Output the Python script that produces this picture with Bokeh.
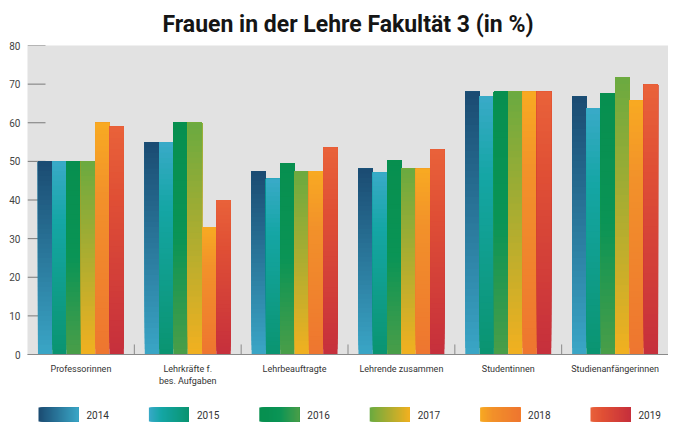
import numpy as np
from bokeh.plotting import figure
from bokeh.models import ColumnDataSource, FactorRange, Range1d, FixedTicker
from bokeh.transform import dodge
from bokeh.layouts import column
from bokeh.embed import file_html
from bokeh.resources import INLINE
from bokeh.core.properties import value

# ---------------- data ----------------
categories = ["Professorinnen", "Lehrkräfte f.\nbes. Aufgaben", "Lehrbeauftragte",
              "Lehrende zusammen", "Studentinnen", "Studienanfängerinnen"]
years = ["2014", "2015", "2016", "2017", "2018", "2019"]
v2014 = [50, 55, 47.5, 48.1, 68.0, 66.8]
v2015 = [50, 55, 45.5, 47.1, 66.9, 63.8]
v2016 = [50, 60, 49.5, 50.2, 68.0, 67.7]
v2017 = [50, 60, 47.5, 48.1, 68.0, 71.8]
v2018 = [60, 33, 47.5, 48.1, 68.0, 65.8]
v2019 = [59, 40, 53.6, 53.1, 68.0, 69.9]
series = [v2014, v2015, v2016, v2017, v2018, v2019]
y_ticks = [0, 10, 20, 30, 40, 50, 60, 70, 80]
title_text = "Frauen in der Lehre Fakultät 3 (in %)"

# ---------------- styles ----------------
gradients = [
    [(0.0, "#1b4b72"), (1.0, "#3aa6c6")],
    [(0.0, "#3aaac8"), (0.3, "#15a6a6"), (1.0, "#0a9470")],
    [(0.0, "#078f4f"), (0.5, "#0a9456"), (1.0, "#4a9e48")],
    [(0.0, "#6aaa40"), (1.0, "#f2b020")],
    [(0.0, "#f8aa22"), (0.3, "#f2922a"), (1.0, "#ee7530")],
    [(0.0, "#e9623a"), (0.3, "#e05035"), (1.0, "#c62f3c")],
]


def hex2rgb(h):
    h = h.lstrip("#")
    return [int(h[i:i + 2], 16) for i in (0, 2, 4)]


def grad_color(stops, t):
    for (p0, c0), (p1, c1) in zip(stops[:-1], stops[1:]):
        if t <= p1 or (p1 == stops[-1][0]):
            f = 0 if p1 == p0 else min(max((t - p0) / (p1 - p0), 0), 1)
            a, b = hex2rgb(c0), hex2rgb(c1)
            r = [round(a[i] + (b[i] - a[i]) * f) for i in range(3)]
            return "#%02x%02x%02x" % tuple(r)
    return stops[-1][1]


NL = 40  # gradient layers per bar
bar_w = 0.134

W, H_MAIN, H_LEG = 668, 396, 28
B_LEFT = 27

p = figure(x_range=FactorRange(factors=categories, range_padding=0, factor_padding=0),
           y_range=Range1d(0, 80), width=W, height=H_MAIN,
           output_backend="svg", toolbar_location=None,
           min_border_left=B_LEFT, min_border_right=0, min_border_top=45, min_border_bottom=42)

p.background_fill_color = "#e2e2e2"
p.border_fill_color = "white"
p.outline_line_color = None
p.xgrid.grid_line_color = None
p.ygrid.grid_line_color = None

p.title.text = title_text
p.title.align = "center"
p.title.offset = -6
p.title.text_font = "Roboto"
p.title.text_font_style = "bold"
p.title.text_font_size = "23px"
p.title.text_color = "#151515"
p.title.standoff = 16

# inward y tick marks (drawn beneath the bars)
tick_len = 0.1685
p.segment(x0=[0] * len(y_ticks), y0=y_ticks, x1=[tick_len] * len(y_ticks), y1=y_ticks,
          line_color="#7a7a7a", line_width=1)

for j, vals in enumerate(series):
    xs, bots, tops, cols = [], [], [], []
    for k in range(NL):
        t = 1 - (k + 0.5) / NL
        c = grad_color(gradients[j], t)
        for cat, v in zip(categories, vals):
            xs.append(cat)
            bots.append(v * k / NL)
            tops.append(v)
            cols.append(c)
    src = ColumnDataSource(dict(x=xs, bottom=bots, top=tops, color=cols))
    p.vbar(x=dodge("x", (j - 2.5) * bar_w, range=p.x_range), width=bar_w,
           bottom="bottom", top="top", fill_color="color", line_color=None, source=src)

# category separator ticks
bounds = list(range(1, len(categories)))
p.segment(x0=bounds, y0=[0] * len(bounds), x1=bounds, y1=[2.6] * len(bounds),
          line_color="#8a8a8a", line_width=1)

# axes
p.yaxis.ticker = FixedTicker(ticks=y_ticks)
p.yaxis.axis_line_color = None
p.yaxis.major_tick_in = 0
p.yaxis.major_tick_out = 0
p.yaxis.major_tick_line_color = None
p.yaxis.minor_tick_line_color = None
p.yaxis.major_label_text_font = "Roboto"
p.yaxis.major_label_text_font_size = "10px"
p.yaxis.major_label_text_color = "#444444"
p.yaxis.major_label_standoff = 7

p.xaxis.axis_line_color = "#8a8a8a"
p.xaxis.major_tick_line_color = None
p.xaxis.minor_tick_line_color = None
p.xaxis.major_label_text_font = "Roboto"
p.xaxis.major_label_text_font_size = "9px"
p.xaxis.major_label_text_color = "#333333"
p.xaxis.major_label_standoff = 3

# ---------------- legend (separate strip, same borders as main plot) ----------------
leg = figure(width=W, height=H_LEG, x_range=Range1d(B_LEFT, W), y_range=Range1d(0, H_LEG),
             output_backend="svg", toolbar_location=None,
             min_border_left=B_LEFT, min_border_right=0, min_border_top=0, min_border_bottom=0)
leg.axis.visible = False
leg.xgrid.grid_line_color = None
leg.ygrid.grid_line_color = None
leg.outline_line_color = None
leg.background_fill_color = "white"

sw_x0, sw_step, sw_w, sw_y0, sw_h = 38, 110.4, 40, 3, 14
ql, qr, qb, qt, qc = [], [], [], [], []
tx, ty, tt = [], [], []
for j, yr in enumerate(years):
    x0 = sw_x0 + j * sw_step
    for k in range(NL):
        t = (k + 0.5) / NL
        ql.append(x0 + sw_w * k / NL)
        qr.append(x0 + sw_w)
        qb.append(sw_y0)
        qt.append(sw_y0 + sw_h)
        qc.append(grad_color(gradients[j], t))
    tx.append(x0 + 48)
    ty.append(sw_y0 + sw_h / 2)
    tt.append(yr)
leg.quad(left=ql, right=qr, bottom=qb, top=qt, fill_color=qc, line_color=None)
leg.text(x=tx, y=ty, text=tt, text_font=value("Roboto"), text_font_size="10px",
         text_color="#333333", text_baseline="middle", text_align="left")

layout = column(p, leg, spacing=0)
open("out.html", "w").write(file_html(layout, INLINE))
